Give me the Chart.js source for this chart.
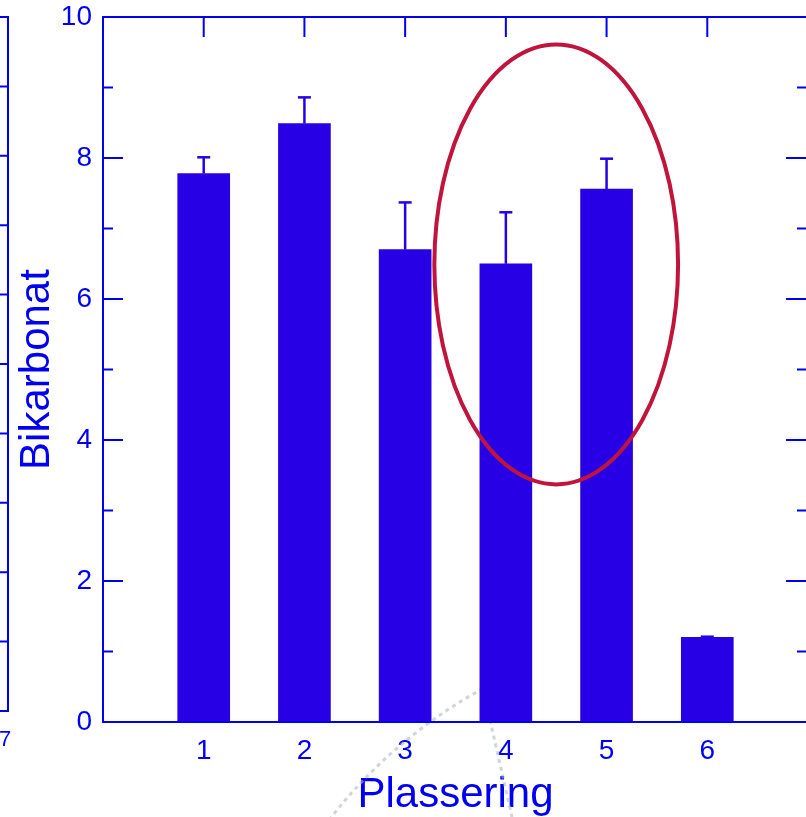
<!DOCTYPE html>
<html>
<head>
<meta charset="utf-8">
<script src="https://cdn.jsdelivr.net/npm/chart.js@4.4.0/dist/chart.umd.min.js"></script>
<style>
html, body { margin: 0; padding: 0; background: #fff; overflow: hidden; }
#wrap { position: relative; width: 806px; height: 817px; overflow: hidden; }
canvas { display: block; }
</style>
</head>
<body>
<div id="wrap"><canvas id="c" width="830" height="817"></canvas></div>
<script>
// ===== Data =====
const categories = [1, 2, 3, 4, 5, 6];
const means = [7.78, 8.49, 6.70, 6.50, 7.56, 1.20];
const errors = [0.23, 0.37, 0.67, 0.73, 0.43, 0.01];
const yMajorTicks = [0, 2, 4, 6, 8, 10];
const yMinorTicks = [1, 3, 5, 7, 9];
const highlight = { x: 4.5, y: 6.49, rx: 1.21, ry: 3.12 }; // red ring round 4 and 5

const BLUE = '#0000f0';
const BAR = '#2800e6';
const RING = '#c0143c';
const FONT = 'Arial, "Liberation Sans", sans-serif';

// ===== Decorations: ticks, frame, error bars, ring =====
const frame = {
  id: 'frame',
  beforeDatasetsDraw(chart) {
    const { ctx, chartArea: a, scales: { x, y } } = chart;
    ctx.save();

    // faint watermark behind the bars
    ctx.strokeStyle = 'rgba(175,185,195,0.6)';
    ctx.lineWidth = 3;
    ctx.setLineDash([4, 4]);
    ctx.beginPath();
    ctx.arc(720, 1122, 494, -2.50, -2.02);
    ctx.stroke();
    ctx.beginPath();
    ctx.moveTo(490, 720);
    ctx.lineTo(512, 817);
    ctx.stroke();
    ctx.setLineDash([]);

    // inward ticks
    ctx.strokeStyle = BLUE;
    ctx.lineWidth = 2;
    ctx.beginPath();
    yMajorTicks.forEach(v => {
      const py = y.getPixelForValue(v);
      ctx.moveTo(a.left, py); ctx.lineTo(a.left + 20, py);
      ctx.moveTo(a.right, py); ctx.lineTo(a.right - 22, py);
    });
    yMinorTicks.forEach(v => {
      const py = y.getPixelForValue(v);
      ctx.moveTo(a.left, py); ctx.lineTo(a.left + 10, py);
      ctx.moveTo(a.right, py); ctx.lineTo(a.right - 11, py);
    });
    categories.forEach(c => {
      const px = x.getPixelForValue(c);
      ctx.moveTo(px, a.top); ctx.lineTo(px, a.top + 20);
      ctx.moveTo(px, a.bottom); ctx.lineTo(px, a.bottom - 20);
    });
    ctx.stroke();

    // neighbouring panel, cut off at the left edge
    ctx.beginPath();
    ctx.moveTo(0, a.top); ctx.lineTo(8, a.top); ctx.lineTo(8, 711); ctx.lineTo(0, 711);
    for (let k = 1; k < 10; k++) {
      const py = a.top + (711 - a.top) * k / 10;
      ctx.moveTo(0, py); ctx.lineTo(8, py);
    }
    ctx.stroke();
    ctx.fillStyle = BLUE;
    ctx.font = '22px ' + FONT;
    ctx.textAlign = 'left';
    ctx.textBaseline = 'alphabetic';
    ctx.fillText('7', -1, 746);
    ctx.restore();
  },
  afterDatasetsDraw(chart) {
    const { ctx, chartArea: a, scales: { x, y } } = chart;
    ctx.save();
    ctx.strokeStyle = BLUE;
    ctx.lineWidth = 2;
    ctx.strokeRect(a.left, a.top, a.right - a.left, a.bottom - a.top);

    // error bars (upper only)
    ctx.strokeStyle = BAR;
    categories.forEach((c, i) => {
      const px = x.getPixelForValue(c);
      const top = y.getPixelForValue(means[i] + errors[i]);
      const base = y.getPixelForValue(means[i]);
      ctx.lineWidth = 2.5;
      ctx.beginPath();
      ctx.moveTo(px, base); ctx.lineTo(px, top);
      ctx.stroke();
      ctx.lineWidth = 2.5;
      ctx.beginPath();
      ctx.moveTo(px - 6.5, top); ctx.lineTo(px + 6.5, top);
      ctx.stroke();
    });

    // red ring
    const cx = x.getPixelForValue(highlight.x);
    const cy = y.getPixelForValue(highlight.y);
    const rx = x.getPixelForValue(highlight.x + highlight.rx) - cx;
    const ry = cy - y.getPixelForValue(highlight.y + highlight.ry);
    ctx.strokeStyle = RING;
    ctx.lineWidth = 4;
    ctx.beginPath();
    ctx.ellipse(cx, cy, rx, ry, 0, 0, Math.PI * 2);
    ctx.stroke();
    ctx.restore();
  },
};

// ===== Chart =====
new Chart(document.getElementById('c'), {
  type: 'bar',
  data: {
    datasets: [{
      data: categories.map((c, i) => ({ x: c, y: means[i] })),
      backgroundColor: BAR,
      borderWidth: 0,
      barThickness: 52,
    }],
  },
  options: {
    responsive: false,
    animation: false,
    devicePixelRatio: 1,
    layout: { padding: { left: 0, top: 17, right: 22, bottom: 0 } },
    plugins: { legend: { display: false }, tooltip: { enabled: false } },
    scales: {
      x: {
        type: 'linear', min: 0, max: 7, offset: false,
        afterFit: s => { s.height = 95; s.paddingLeft = 0; s.paddingRight = 0; },
        grid: { display: false, drawTicks: false },
        border: { display: false },
        ticks: {
          stepSize: 1, autoSkip: false, maxRotation: 0, padding: 12,
          color: BLUE, font: { family: FONT, size: 28 },
          callback: v => categories.includes(v) ? String(v) : '',
        },
        title: {
          display: true, text: 'Plassering', color: BLUE,
          font: { family: FONT, size: 42, lineHeight: 1 },
          padding: { top: 0, bottom: 1 },
        },
      },
      y: {
        min: 0, max: 10,
        afterFit: s => { s.width = 103; s.paddingTop = 0; s.paddingBottom = 0; },
        grid: { display: false, drawTicks: false },
        border: { display: false },
        ticks: {
          stepSize: 2, padding: 11,
          color: BLUE, font: { family: FONT, size: 28 },
        },
        title: {
          display: true, text: 'Bikarbonat', color: BLUE,
          font: { family: FONT, size: 42, lineHeight: 1 },
          padding: { top: 16, bottom: 0 },
        },
      },
    },
  },
  plugins: [frame],
});
</script>
</body>
</html>
